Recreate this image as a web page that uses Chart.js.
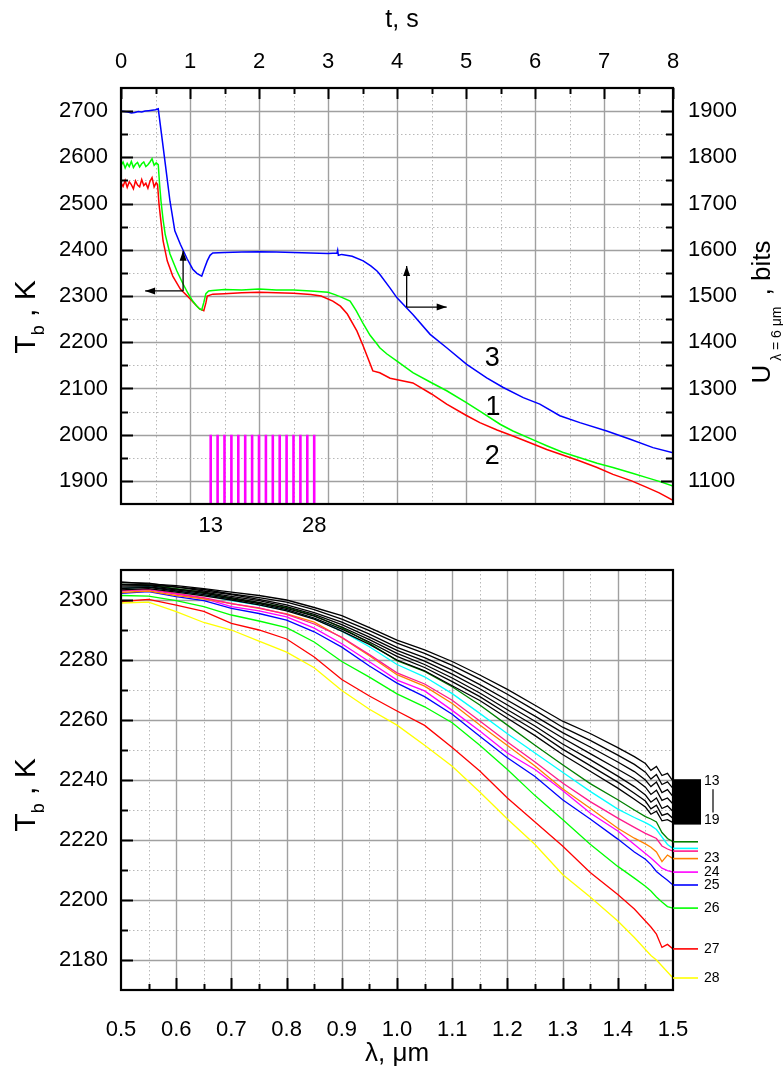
<!DOCTYPE html>
<html><head><meta charset="utf-8">
<script src="https://cdn.jsdelivr.net/npm/chart.js@4.4.0/dist/chart.umd.min.js"></script>
<style>
html,body{margin:0;padding:0;background:#fff;}
#wrap{position:relative;width:783px;height:1072px;overflow:hidden;}
#c1{position:absolute;left:0;top:0;width:783px;height:540px;}
#c2{position:absolute;left:0;top:540px;width:783px;height:532px;}
</style></head><body>
<div id="wrap"><canvas id="c1" width="783" height="540"></canvas><canvas id="c2" width="783" height="532"></canvas></div>
<script>
const FONT = '"Liberation Sans", Arial, Helvetica, sans-serif';

// ================= TOP CHART DATA =================
const tTicks = [0,1,2,3,4,5,6,7,8];
const tbTicks = [1900,2000,2100,2200,2300,2400,2500,2600,2700];
const uTicks = [1100,1200,1300,1400,1500,1600,1700,1800,1900];
const frameT = [1.3,1.4,1.5,1.6,1.7,1.8,1.9,2.0,2.1,2.2,2.3,2.4,2.5,2.6,2.7,2.8];
const frameBarFrom = 1850;
const frameBarTo = 2000;
const frameLabelT = [1.3, 2.8];
const frameLabelText = ['13', '28'];

// curve 1 (green), T_b, K
const tGreen = [0,0.03,0.06,0.09,0.12,0.15,0.18,0.21,0.24,0.27,0.30,0.33,0.36,0.39,0.42,0.45,0.48,0.51,0.54,0.56,
  0.58,0.61,0.64,0.71,0.81,0.90,0.97,1.04,1.10,1.14,1.17,1.20,1.23,1.27,1.33,1.50,1.75,2.00,2.25,2.50,
  2.75,3.00,3.10,3.20,3.32,3.41,3.51,3.61,3.71,3.75,3.85,4.00,4.23,4.48,4.72,5.00,5.20,5.50,5.68,6.00,
  6.17,6.40,6.65,6.90,7.13,7.40,7.62,7.80,8.00];
const tbGreen = [2582,2590,2577,2587,2580,2591,2578,2585,2589,2579,2586,2590,2580,2584,2590,2597,2583,2588,2584,2540,
  2505,2465,2434,2391,2354,2326,2306,2289,2278,2272,2270,2286,2305,2311,2312,2314,2313,2315,2313,2313,
  2311,2308,2303,2297,2289,2268,2240,2215,2196,2188,2175,2159,2134,2114,2095,2070,2051,2022,2008,1987,
  1976,1962,1950,1938,1929,1917,1907,1899,1889];

// curve 2 (red), T_b, K
const tRed = [0,0.03,0.06,0.09,0.12,0.15,0.18,0.21,0.24,0.27,0.30,0.33,0.36,0.39,0.42,0.45,0.48,0.51,0.53,0.55,
  0.58,0.61,0.67,0.75,0.86,1.00,1.08,1.14,1.20,1.23,1.25,1.33,1.50,1.75,2.00,2.25,2.50,2.75,2.90,3.07,
  3.18,3.28,3.42,3.51,3.65,3.75,3.90,4.23,4.50,4.72,5.00,5.20,5.45,5.68,5.90,6.17,6.40,6.65,6.90,7.13,
  7.40,7.62,7.80,8.00];
const tbRed = [2545,2537,2550,2535,2547,2541,2532,2549,2540,2536,2552,2539,2544,2533,2548,2556,2536,2545,2541,2500,
  2460,2419,2376,2343,2315,2294,2281,2272,2268,2285,2300,2304,2305,2307,2308,2307,2306,2303,2300,2289,
  2278,2261,2224,2192,2138,2134,2122,2112,2088,2066,2042,2026,2010,1997,1984,1968,1956,1943,1929,1914,
  1900,1886,1874,1858];

// curve 3 (blue), U (bits), right axis
const tBlue = [0,0.05,0.1,0.15,0.2,0.25,0.3,0.35,0.4,0.45,0.5,0.54,0.6,0.65,0.71,0.78,0.86,0.96,1.04,1.1,
  1.17,1.21,1.25,1.29,1.33,1.5,1.75,2.0,2.25,2.5,2.75,3.0,3.13,3.14,3.15,3.2,3.35,3.51,3.62,3.71,
  3.75,3.9,4.0,4.23,4.48,4.72,5.01,5.3,5.54,5.83,6.07,6.36,6.65,7.04,7.38,7.71,8.0];
const uBlue = [1900,1899,1898,1896,1897,1899,1898,1900,1901,1902,1903,1905,1835,1776,1705,1641,1612,1580,1558,1549,
  1543,1560,1576,1588,1593,1594,1595,1596,1595,1594,1593,1592,1593,1599,1588,1590,1586,1576,1565,1554,
  1547,1517,1496,1460,1417,1388,1352,1323,1302,1280,1266,1241,1226,1208,1190,1172,1161];

// annotations of the top chart (left-axis units)
const topArrows = [
  {t:0.90, v:2311, toT:0.35, toV:2398},
  {t:4.14, v:2276, toT:4.72, toV:2365}
];
const curveTags = [
  {text:'3', t:5.38, v:2164},
  {text:'1', t:5.39, v:2058},
  {text:'2', t:5.38, v:1952}
];

// ================= BOTTOM CHART DATA =================
const lamTicks = [0.5,0.6,0.7,0.8,0.9,1.0,1.1,1.2,1.3,1.4,1.5];
const tb2Ticks = [2180,2200,2220,2240,2260,2280,2300];
const lam = [0.50,0.55,0.60,0.65,0.70,0.75,0.80,0.85,0.90,0.95,1.00,1.05,1.10,1.15,1.20,1.25,1.30,1.35,1.40,1.43,1.45,1.46,1.47,1.48,1.49,1.50];
const s13 = [2306,2305.4,2304.8,2303.8,2302.6,2301.5,2300,2297.5,2294.8,2290.8,2286.6,2283.4,2279.5,2275,2270.2,2264.9,2259.6,2255.5,2250.8,2247.8,2245.5,2243.2,2244.5,2241.5,2242.2,2239.6];
const s14 = [2305.8,2305.6,2304.3,2303.5,2302,2300.8,2299.3,2296.8,2293.6,2289.8,2285.6,2282.2,2278.2,2273.6,2268.6,2263.2,2257.6,2253.2,2248.3,2245.2,2242.6,2240.3,2241.8,2238.5,2239.4,2237.2];
const s15 = [2305.2,2305,2304.4,2303,2301.8,2300.2,2298.4,2295.8,2292.6,2288.6,2284.2,2280.8,2276.6,2271.8,2266.6,2261.3,2255.8,2251,2246,2242.8,2240,2237.8,2239.3,2235.8,2236.8,2234.5];
const s16 = [2304.7,2304.8,2303.6,2302.6,2301.2,2299.8,2297.8,2295.2,2291.8,2287.6,2283.2,2279.6,2275.3,2270.4,2265,2259.6,2254,2248.8,2243.6,2240.4,2237.6,2235.2,2236.6,2233.2,2234,2232];
const s17 = [2304.3,2304.4,2303.4,2302.2,2300.8,2299.2,2297.2,2294.6,2291,2286.8,2282.2,2278.5,2274,2269,2263.4,2258,2252,2246.8,2241.3,2237.8,2235,2232.6,2234,2230.5,2231.4,2229.5];
const s18 = [2303.8,2304.2,2303,2301.8,2300.4,2298.8,2296.8,2294,2290.3,2286,2281.2,2277.5,2272.8,2267.8,2262,2256.5,2250.3,2244.8,2239.3,2235.6,2233,2230.4,2231.6,2228.2,2228.8,2227.2];
const s19 = [2303.4,2303.8,2302.6,2301.4,2300,2298.4,2296.4,2293.6,2289.6,2285.2,2280,2276.4,2271.4,2266.5,2260.6,2254.8,2248.5,2242.9,2237.3,2233.6,2231,2228.6,2229.6,2226.4,2226.8,2225.8];
const s20 = [2305.2,2305,2303.8,2302.5,2300.5,2299,2297.5,2294.8,2290.8,2285.6,2279.8,2276.2,2271.1,2265,2258.3,2251.6,2245.1,2238.8,2233.4,2230,2227.8,2227,2226,2222.5,2220.5,2219.4];
const s21 = [2303.8,2304.5,2303,2301.8,2299.8,2298.3,2296.6,2293.8,2289.6,2284.4,2278.5,2274.4,2268.8,2262.2,2255.4,2249,2242.6,2236.2,2230.3,2227.5,2225.8,2224.8,2223.5,2221,2218.5,2217.2];
const s22 = [2303,2303.6,2302.2,2300.8,2298.8,2297.4,2295.2,2292,2287.6,2281.8,2275.7,2272,2266.6,2259.7,2252.7,2246,2239,2232.8,2227.3,2224.2,2222.2,2221.4,2220.5,2218,2217,2216.3];
const s23 = [2302.5,2303,2301.5,2300.4,2298.8,2297.2,2295.4,2292.6,2287.4,2281.4,2275.1,2271.3,2265.5,2258.3,2251.5,2244.7,2237.1,2230.6,2223.9,2220.6,2218.7,2217.6,2216,2212.8,2215,2213.8];
const s24 = [2303.2,2303.4,2302,2300.5,2297.8,2296.4,2294.4,2290.6,2285.4,2279.4,2273.3,2269.7,2263.2,2256.3,2249,2243.5,2236.5,2229,2223,2218.5,2215.5,2214,2212.3,2210.6,2209.8,2209.3];
const s25 = [2302.2,2302.8,2301.1,2299.8,2297.2,2295.5,2293.3,2289.4,2284.3,2278,2272.3,2267.8,2261.9,2254.6,2247.4,2241.2,2233.4,2227,2220.3,2216,2213.6,2211.8,2209.5,2208,2206.6,2205];
const s26 = [2301.5,2301.3,2299.8,2297.8,2295,2293,2290.8,2286,2279.5,2274.3,2268.7,2264.4,2259.1,2251.6,2243.5,2234.8,2226.8,2218.6,2211.2,2207.3,2204.6,2203,2201,2199.3,2197.8,2197.3];
const s27 = [2299.5,2300.2,2298.3,2296.2,2292.2,2290,2287,2281,2273.5,2268,2263,2258.2,2250.8,2243,2234,2226,2218,2209.2,2201.8,2197,2193,2191,2188.6,2184.2,2185.2,2183.7];
const s28 = [2299,2299.3,2296.1,2292.5,2290,2286.3,2282.6,2277.4,2269.8,2263.6,2258.3,2251.6,2244.6,2236,2227,2218.5,2208.5,2201,2193,2187.5,2183.5,2181.5,2180,2178,2176,2174];

const spectra = [s13,s14,s15,s16,s17,s18,s19,s20,s21,s22,s23,s24,s25,s26,s27,s28];
const spectraNames = ['13','14','15','16','17','18','19','20','21','22','23','24','25','26','27','28'];
const spectraColors = ['#000000','#000000','#000000','#000000','#000000','#000000','#000000',
  '#008000','#00ffff','#ff1a8c','#ff8000','#ff00ff','#0000ff','#00ff00','#ff0000','#ffff00'];
const taggedSpectra = ['23','24','25','26','27','28'];

// ================= HELPERS =================
const pts = (xs, ys) => xs.map((x, i) => ({x: x, y: ys[i]}));

function gridLine(ctx, x1, y1, x2, y2, major) {
  ctx.beginPath();
  if (major) { ctx.setLineDash([]); ctx.strokeStyle = '#a0a0a0'; ctx.lineWidth = 1.4; }
  else { ctx.setLineDash([1.5, 2.5]); ctx.strokeStyle = '#b8b8b8'; ctx.lineWidth = 1; }
  ctx.moveTo(x1, y1); ctx.lineTo(x2, y2); ctx.stroke();
  ctx.setLineDash([]);
}
function seg(ctx, x1, y1, x2, y2, w, c) {
  ctx.beginPath(); ctx.lineWidth = w; ctx.strokeStyle = c || '#000';
  ctx.moveTo(x1, y1); ctx.lineTo(x2, y2); ctx.stroke();
}
function arrow(ctx, x1, y1, x2, y2) {
  seg(ctx, x1, y1, x2, y2, 1.3, '#000');
  const ang = Math.atan2(y2 - y1, x2 - x1), L = 10, W = 3.5;
  ctx.beginPath();
  ctx.moveTo(x2, y2);
  ctx.lineTo(x2 - L * Math.cos(ang) + W * Math.sin(ang), y2 - L * Math.sin(ang) - W * Math.cos(ang));
  ctx.lineTo(x2 - L * Math.cos(ang) - W * Math.sin(ang), y2 - L * Math.sin(ang) + W * Math.cos(ang));
  ctx.closePath(); ctx.fillStyle = '#000'; ctx.fill();
}
function drawRich(ctx, cx, cy, rot, parts) {
  ctx.save();
  ctx.translate(cx, cy); ctx.rotate(rot);
  let total = 0;
  parts.forEach(p => { ctx.font = p.size + 'px ' + FONT; p.w = ctx.measureText(p.t).width; total += p.w; });
  let x = -total / 2;
  ctx.textAlign = 'left'; ctx.textBaseline = 'alphabetic'; ctx.fillStyle = '#000';
  parts.forEach(p => { ctx.font = p.size + 'px ' + FONT; ctx.fillText(p.t, x, p.dy || 0); x += p.w; });
  ctx.restore();
}
function frame(ctx, a) {
  ctx.save(); ctx.setLineDash([]);
  ctx.lineWidth = 2.2; ctx.strokeStyle = '#000';
  ctx.strokeRect(a.left, a.top, a.right - a.left, a.bottom - a.top);
  ctx.restore();
}

// ================= TOP CHART =================
const topDecor = {
  id: 'topDecor',
  beforeDatasetsDraw(chart) {
    const ctx = chart.ctx, a = chart.chartArea, sx = chart.scales.x, sy = chart.scales.y;
    ctx.save();
    for (let i = 1; i < 16; i++) {
      const px = Math.round(sx.getPixelForValue(i * 0.5)) + 0.5;
      gridLine(ctx, px, a.top, px, a.bottom, i % 2 === 0);
    }
    for (let i = 1; i < 18; i++) {
      const v = 1850 + i * 50;
      const py = Math.round(sy.getPixelForValue(v)) + 0.5;
      gridLine(ctx, a.left, py, a.right, py, v % 100 === 0);
    }
    ctx.restore();
  },
  afterDatasetsDraw(chart) {
    const ctx = chart.ctx, a = chart.chartArea, sx = chart.scales.x, sy = chart.scales.y, sy2 = chart.scales.y2;
    ctx.save();
    frame(ctx, a);
    for (let i = 0; i <= 16; i++) {
      const px = Math.round(sx.getPixelForValue(i * 0.5)) + 0.5;
      seg(ctx, px, a.top, px, a.top + (i % 2 === 0 ? 11 : 6), 2, '#000');
    }
    for (let i = 1; i < 18; i++) {
      const v = 1850 + i * 50;
      const py = Math.round(sy.getPixelForValue(v)) + 0.5;
      seg(ctx, a.left, py, a.left + (v % 100 === 0 ? 12 : 7), py, 2, '#000');
      const v2 = 1050 + i * 50;
      const py2 = Math.round(sy2.getPixelForValue(v2)) + 0.5;
      seg(ctx, a.right, py2, a.right - (v2 % 100 === 0 ? 12 : 7), py2, 2, '#000');
    }
    topArrows.forEach(ar => {
      const x0 = sx.getPixelForValue(ar.t), y0 = sy.getPixelForValue(ar.v);
      arrow(ctx, x0, y0, x0, sy.getPixelForValue(ar.toV));
      arrow(ctx, x0, y0, sx.getPixelForValue(ar.toT), y0);
    });
    ctx.fillStyle = '#000'; ctx.font = '27px ' + FONT; ctx.textAlign = 'center'; ctx.textBaseline = 'middle';
    curveTags.forEach(c => ctx.fillText(c.text, sx.getPixelForValue(c.t), sy.getPixelForValue(c.v)));
    ctx.textAlign = 'center'; ctx.textBaseline = 'alphabetic'; ctx.font = '25px ' + FONT;
    ctx.fillText('t, s', 402, 27);
    drawRich(ctx, 35, 317, -Math.PI / 2, [
      {t: 'T', size: 30}, {t: 'b', size: 18, dy: 9}, {t: ' , ', size: 30}, {t: 'K', size: 30}
    ]);
    drawRich(ctx, 770, 312, -Math.PI / 2, [
      {t: 'U', size: 26}, {t: ' \u03bb = 6 \u03bcm ', size: 14, dy: 11}, {t: ' , ', size: 26}, {t: 'bits', size: 26}
    ]);
    ctx.restore();
  }
};

const framePts = [];
frameT.forEach(t => { framePts.push({x: t, y: frameBarFrom}, {x: t, y: frameBarTo}, {x: t, y: null}); });

const tickFont = {family: FONT, size: 22};
const noGrid = {display: false, drawTicks: false, tickLength: 0};

new Chart(document.getElementById('c1'), {
  type: 'line',
  data: {
    datasets: [
      {label: 'frames', data: framePts, borderColor: '#ff00ff', borderWidth: 2.6, spanGaps: false, borderCapStyle: 'butt', yAxisID: 'y'},
      {label: '1', data: pts(tGreen, tbGreen), borderColor: '#00ff00', borderWidth: 1.5, yAxisID: 'y'},
      {label: '2', data: pts(tRed, tbRed), borderColor: '#ff0000', borderWidth: 1.5, yAxisID: 'y'},
      {label: '3', data: pts(tBlue, uBlue), borderColor: '#0000ff', borderWidth: 1.5, yAxisID: 'y2'}
    ]
  },
  options: {
    responsive: false, animation: false, devicePixelRatio: 1,
    layout: {padding: 0},
    plugins: {legend: {display: false}, tooltip: {enabled: false}},
    elements: {line: {tension: 0}, point: {radius: 0}},
    scales: {
      x: {type: 'linear', position: 'top', min: 0, max: 8,
          afterBuildTicks: s => { s.ticks = tTicks.map(v => ({value: v})); },
          afterFit: s => { s.height = 88; },
          ticks: {font: tickFont, color: '#000', padding: 13, maxRotation: 0, autoSkip: false, callback: v => String(v)},
          grid: noGrid, border: {display: false}},
      xb: {type: 'linear', position: 'bottom', min: 0, max: 8,
          afterBuildTicks: s => { s.ticks = frameLabelT.map(v => ({value: v})); },
          afterFit: s => { s.height = 36; },
          ticks: {font: tickFont, color: '#000', padding: 9, maxRotation: 0, autoSkip: false, callback: (v, i) => frameLabelText[i]},
          grid: noGrid, border: {display: false}},
      y: {type: 'linear', position: 'left', min: 1850, max: 2750,
          afterBuildTicks: s => { s.ticks = tbTicks.map(v => ({value: v})); },
          afterFit: s => { s.width = 121; },
          ticks: {font: tickFont, color: '#000', padding: 13, autoSkip: false, callback: v => String(v)},
          grid: noGrid, border: {display: false}},
      y2: {type: 'linear', position: 'right', min: 1050, max: 1950,
          afterBuildTicks: s => { s.ticks = uTicks.map(v => ({value: v})); },
          afterFit: s => { s.width = 110; },
          ticks: {font: tickFont, color: '#000', padding: 15, autoSkip: false, callback: v => String(v)},
          grid: noGrid, border: {display: false}}
    }
  },
  plugins: [topDecor]
});

// ================= BOTTOM CHART =================
const bottomDecor = {
  id: 'bottomDecor',
  beforeDatasetsDraw(chart) {
    const ctx = chart.ctx, a = chart.chartArea, sx = chart.scales.x, sy = chart.scales.y;
    ctx.save();
    for (let i = 1; i < 20; i++) {
      const px = Math.round(sx.getPixelForValue(0.5 + i * 0.05)) + 0.5;
      gridLine(ctx, px, a.top, px, a.bottom, i % 2 === 0);
    }
    for (let i = 1; i < 14; i++) {
      const v = 2170 + i * 10;
      const py = Math.round(sy.getPixelForValue(v)) + 0.5;
      gridLine(ctx, a.left, py, a.right, py, v % 20 === 0);
    }
    ctx.restore();
  },
  afterDatasetsDraw(chart) {
    const ctx = chart.ctx, a = chart.chartArea, sx = chart.scales.x, sy = chart.scales.y;
    ctx.save();
    frame(ctx, a);
    for (let i = 1; i < 20; i++) {
      const px = Math.round(sx.getPixelForValue(0.5 + i * 0.05)) + 0.5;
      seg(ctx, px, a.bottom, px, a.bottom - (i % 2 === 0 ? 12 : 6), 2, '#000');
    }
    for (let i = 1; i < 14; i++) {
      const v = 2170 + i * 10;
      const py = Math.round(sy.getPixelForValue(v)) + 0.5;
      seg(ctx, a.left, py, a.left + (v % 20 === 0 ? 12 : 7), py, 2, '#000');
    }
    const R = a.right;
    const ds = chart.data.datasets;
    const blackEnds = [];
    ds.forEach((d, i) => {
      const last = d.data[d.data.length - 1].y;
      if (spectraColors[i] === '#000000') { blackEnds.push(last); return; }
      const py = sy.getPixelForValue(last);
      seg(ctx, R, py, R + 25, py, 1.6, spectraColors[i]);
    });
    const bTop = sy.getPixelForValue(Math.max(...blackEnds));
    const bBot = sy.getPixelForValue(Math.min(...blackEnds));
    ctx.fillStyle = '#000';
    ctx.fillRect(R, bTop - 2, 28, bBot - bTop + 4);
    ctx.font = '14px ' + FONT; ctx.textAlign = 'left'; ctx.textBaseline = 'middle';
    ctx.fillText(spectraNames[0], R + 31, bTop);
    ctx.fillText(spectraNames[6], R + 31, bBot - 2);
    seg(ctx, R + 40, bTop + 8, R + 40, bBot - 10, 1.2, '#000');
    ds.forEach((d, i) => {
      if (taggedSpectra.indexOf(spectraNames[i]) < 0) return;
      const py = sy.getPixelForValue(d.data[d.data.length - 1].y);
      ctx.fillStyle = '#000';
      ctx.fillText(spectraNames[i], R + 31, py);
    });
    ctx.textAlign = 'center'; ctx.textBaseline = 'alphabetic'; ctx.font = '26px ' + FONT; ctx.fillStyle = '#000';
    ctx.fillText('\u03bb, \u03bcm', 397, 521);
    drawRich(ctx, 35, 255, -Math.PI / 2, [
      {t: 'T', size: 30}, {t: 'b', size: 18, dy: 9}, {t: ' , ', size: 30}, {t: 'K', size: 30}
    ]);
    ctx.restore();
  }
};

new Chart(document.getElementById('c2'), {
  type: 'line',
  data: {
    datasets: spectra.map((s, i) => ({
      label: spectraNames[i], data: pts(lam, s), borderColor: spectraColors[i], borderWidth: 1.3
    }))
  },
  options: {
    responsive: false, animation: false, devicePixelRatio: 1,
    layout: {padding: {top: 30, right: 110, left: 0, bottom: 0}},
    plugins: {legend: {display: false}, tooltip: {enabled: false}},
    elements: {line: {tension: 0}, point: {radius: 0}},
    scales: {
      x: {type: 'linear', position: 'bottom', min: 0.5, max: 1.5,
          afterBuildTicks: s => { s.ticks = lamTicks.map(v => ({value: v})); },
          afterFit: s => { s.height = 82; },
          ticks: {font: tickFont, color: '#000', padding: 27, maxRotation: 0, autoSkip: false, callback: v => Number(v).toFixed(1)},
          grid: noGrid, border: {display: false}},
      y: {type: 'linear', position: 'left', min: 2170, max: 2310,
          afterBuildTicks: s => { s.ticks = tb2Ticks.map(v => ({value: v})); },
          afterFit: s => { s.width = 121; },
          ticks: {font: tickFont, color: '#000', padding: 13, autoSkip: false, callback: v => String(v)},
          grid: noGrid, border: {display: false}}
    }
  },
  plugins: [bottomDecor]
});
</script>
</body></html>
